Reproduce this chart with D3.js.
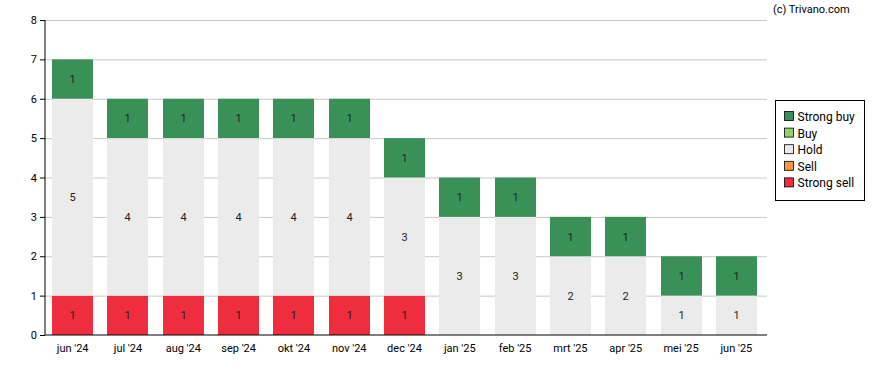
<!DOCTYPE html>
<html>
<head>
<meta charset="utf-8">
<script src="https://cdn.jsdelivr.net/npm/d3@7"></script>
<style>
  body { margin: 0; background: #fff; }
  text { font-family: Roboto, "Liberation Sans", sans-serif; }
</style>
</head>
<body>
<svg id="chart"></svg>
<script>
var months = ["jun '24", "jul '24", "aug '24", "sep '24", "okt '24", "nov '24", "dec '24",
              "jan '25", "feb '25", "mrt '25", "apr '25", "mei '25", "jun '25"];
var strongSell = [1, 1, 1, 1, 1, 1, 1, 0, 0, 0, 0, 0, 0];
var sell       = [0, 0, 0, 0, 0, 0, 0, 0, 0, 0, 0, 0, 0];
var hold       = [5, 4, 4, 4, 4, 4, 3, 3, 3, 2, 2, 1, 1];
var buy        = [0, 0, 0, 0, 0, 0, 0, 0, 0, 0, 0, 0, 0];
var strongBuy  = [1, 1, 1, 1, 1, 1, 1, 1, 1, 1, 1, 1, 1];
var yTicks = [0, 1, 2, 3, 4, 5, 6, 7, 8];

var seriesNames  = ["Strong sell", "Sell", "Hold", "Buy", "Strong buy"];
var seriesColors = ["#ee2e3f", "#f79646", "#ebebeb", "#92d36e", "#3a9158"];
var seriesValues = [strongSell, sell, hold, buy, strongBuy];

var width = 888, height = 370;
var plotLeft = 45, plotRight = 767, plotTop = 20, plotBottom = 335;

var svg = d3.select("#chart").attr("width", width).attr("height", height);

var table = months.map(function(m, i) {
	var row = {month: m};
	seriesNames.forEach(function(s, j) { row[s] = seriesValues[j][i]; });
	return row;
});
var stacked = d3.stack().keys(seriesNames)(table);

var x = d3.scaleBand().domain(months).range([plotLeft, 764]).paddingInner(0.26).paddingOuter(0.13);
var y = d3.scaleLinear().domain([0, 8]).range([plotBottom, plotTop]);

// gridlines
svg.append("g").selectAll("line")
	.data(yTicks.filter(function(t) { return t > 0; }))
	.enter().append("line")
	.attr("x1", plotLeft).attr("x2", plotRight)
	.attr("y1", function(d) { return y(d) + 0.5; })
	.attr("y2", function(d) { return y(d) + 0.5; })
	.attr("stroke", "#c8c8c8").attr("stroke-width", 1);

// bars
var layers = svg.append("g").selectAll("g")
	.data(stacked).enter().append("g")
	.attr("fill", function(d, i) { return seriesColors[i]; });

layers.selectAll("rect")
	.data(function(d) { return d.filter(function(p) { return p[1] - p[0] > 0; }); })
	.enter().append("rect")
	.attr("x", function(d) { return Math.round(x(d.data.month)); })
	.attr("width", Math.round(x.bandwidth()))
	.attr("y", function(d) { return y(d[1]); })
	.attr("height", function(d) { return y(d[0]) - y(d[1]); });

layers.selectAll("text")
	.data(function(d) { return d.filter(function(p) { return p[1] - p[0] > 0; }); })
	.enter().append("text")
	.attr("x", function(d) { return Math.round(x(d.data.month)) + Math.round(x.bandwidth()) / 2; })
	.attr("y", function(d) { return (y(d[0]) + y(d[1])) / 2 + 4; })
	.attr("text-anchor", "middle")
	.attr("font-size", "11px")
	.attr("fill", "#222")
	.text(function(d) { return d[1] - d[0]; });

// axes
var yAxis = svg.append("g")
	.attr("transform", "translate(" + plotLeft + ",0)")
	.call(d3.axisLeft(y).tickValues(yTicks).tickSize(5).tickFormat(d3.format("d")));
yAxis.select(".domain").attr("stroke", "#000").attr("d", "M0," + plotTop + "V" + plotBottom);
yAxis.selectAll("text").attr("font-size", "11px").attr("fill", "#000")
	.style("font-family", "Roboto, sans-serif");

var xAxis = svg.append("g")
	.attr("transform", "translate(0," + plotBottom + ")")
	.call(d3.axisBottom(x).tickSize(0).tickPadding(9));
xAxis.select(".domain").attr("stroke", "#000").attr("d", "M" + plotLeft + ",0H" + plotRight);
xAxis.selectAll("text").attr("font-size", "11px").attr("fill", "#000")
	.style("font-family", "Roboto, sans-serif");

// copyright
svg.append("text")
	.attr("x", 773).attr("y", 13)
	.attr("font-size", "11px").attr("fill", "#000")
	.text("(c) Trivano.com");

// legend
var legend = svg.append("g").attr("transform", "translate(775.5,100.5)");
legend.append("rect")
	.attr("width", 89).attr("height", 100)
	.attr("fill", "#fff").attr("stroke", "#000").attr("stroke-width", 1);

var legendOrder = seriesNames.slice().reverse();
var legendColors = seriesColors.slice().reverse();
var items = legend.selectAll("g.item")
	.data(legendOrder).enter().append("g")
	.attr("class", "item")
	.attr("transform", function(d, i) { return "translate(9," + (11 + i * 16.6) + ")"; });
items.append("rect")
	.attr("width", 9).attr("height", 9)
	.attr("fill", function(d, i) { return legendColors[i]; })
	.attr("stroke", "#000").attr("stroke-width", 0.8);
items.append("text")
	.attr("x", 13).attr("y", 9.5)
	.attr("font-size", "12px").attr("fill", "#000")
	.text(function(d) { return d; });
</script>
</body>
</html>
